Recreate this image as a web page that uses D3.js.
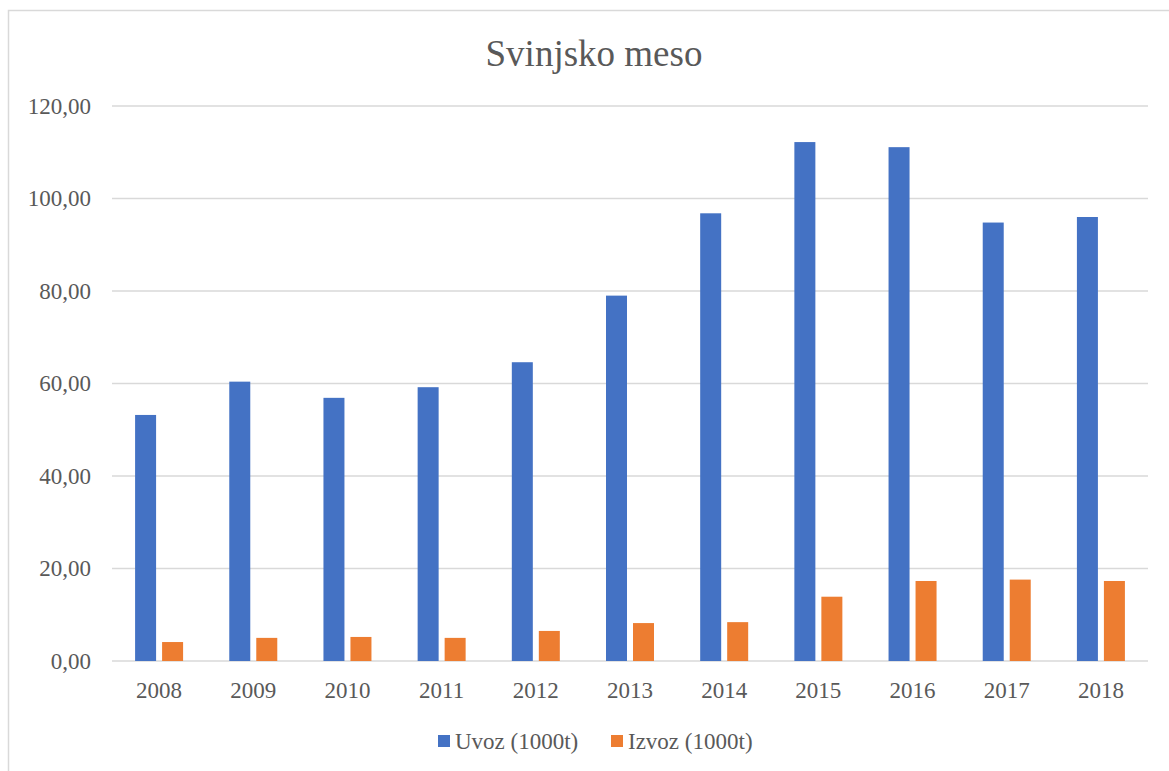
<!DOCTYPE html>
<html>
<head>
<meta charset="utf-8">
<script src="https://cdn.jsdelivr.net/npm/d3@7"></script>
<style>
  body { margin: 0; background: #fff; }
  svg { display: block; font-family: "Liberation Serif", "Times New Roman", serif; }
</style>
</head>
<body>
<script>
const years = ['2008', '2009', '2010', '2011', '2012', '2013', '2014', '2015', '2016', '2017', '2018'];
const uvoz = [53.2, 60.4, 56.9, 59.2, 64.6, 79.0, 96.8, 112.2, 111.1, 94.8, 96.0];
const izvoz = [4.1, 5.0, 5.2, 5.0, 6.5, 8.2, 8.4, 13.9, 17.3, 17.6, 17.3];
const seriesNames = ['Uvoz (1000t)', 'Izvoz (1000t)'];
const colors = ['#4472c4', '#ed7d31'];
const yTicks = [0, 20, 40, 60, 80, 100, 120];

const width = 1169;
const height = 771;
const margin = {left: 112, right: 21, top: 106, bottom: 110};

const svg = d3.select('body')
    .append('svg')
    .attr('width', width)
    .attr('height', height)

// chart border
svg.append('rect')
    .attr('x', 8.5)
    .attr('y', 10.5)
    .attr('width', 1180)
    .attr('height', 800)
    .attr('fill', 'none')
    .attr('stroke', '#d9d9d9')
    .attr('stroke-width', 1.5)

const x = d3.scaleBand()
    .domain(years)
    .range([margin.left, width - margin.right])

const y = d3.scaleLinear()
    .domain([0, 120])
    .range([height - margin.bottom, margin.top])

// gridlines
svg.append('g')
    .selectAll('line')
    .data(yTicks)
    .enter()
    .append('line')
    .attr('x1', margin.left)
    .attr('x2', width - margin.right)
    .attr('y1', d => y(d))
    .attr('y2', d => y(d))
    .attr('stroke', '#d9d9d9')
    .attr('stroke-width', 1.5)

const yAxis = svg.append('g')
    .attr('transform', `translate(${margin.left - 21},0)`)
    .call(d3.axisLeft(y).tickValues(yTicks).tickSize(0).tickPadding(0).tickFormat(d => d3.format('.2f')(d).replace('.', ',')))
yAxis.select('.domain').remove()
yAxis.selectAll('text')
    .attr('fill', '#595959')
    .style('font-size', '23px')
    .style('font-family', '"Liberation Serif", serif')

const xAxis = svg.append('g')
    .attr('transform', `translate(0,${height - margin.bottom})`)
    .call(d3.axisBottom(x).tickSize(0))
xAxis.select('.domain').remove()
xAxis.selectAll('text')
    .attr('dy', null)
    .attr('y', 37)
    .attr('fill', '#595959')
    .style('font-size', '23px')
    .style('font-family', '"Liberation Serif", serif')

const barW = 21;
const gap = 6;
const series = [uvoz, izvoz];

series.forEach((vals, si) => {
    svg.append('g')
        .selectAll('rect')
        .data(vals)
        .enter()
        .append('rect')
        .attr('x', (d, i) => x(years[i]) + x.bandwidth() / 2 - barW - gap / 2 + si * (barW + gap))
        .attr('y', d => y(d))
        .attr('width', barW)
        .attr('height', d => y(0) - y(d))
        .attr('fill', colors[si])
})

// title
svg.append('text')
    .attr('x', 594)
    .attr('y', 66)
    .attr('text-anchor', 'middle')
    .attr('fill', '#595959')
    .style('font-size', '37px')
    .text('Svinjsko meso')

// legend
const legendX = [438, 611];
seriesNames.forEach((name, i) => {
    svg.append('rect')
        .attr('x', legendX[i])
        .attr('y', 735)
        .attr('width', 12)
        .attr('height', 12)
        .attr('fill', colors[i])
    svg.append('text')
        .attr('x', legendX[i] + 17)
        .attr('y', 749)
        .attr('fill', '#595959')
        .style('font-size', '23px')
        .text(name)
})
</script>
</body>
</html>
